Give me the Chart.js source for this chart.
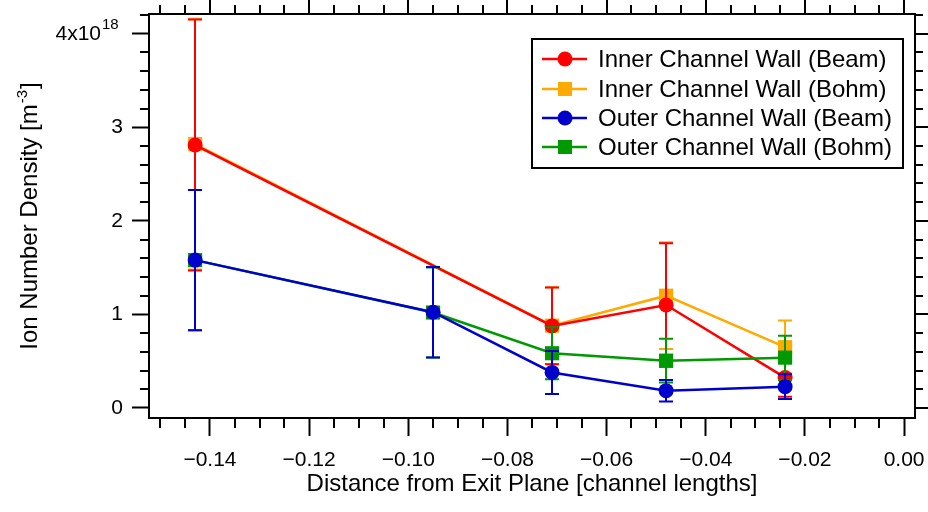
<!DOCTYPE html>
<html>
<head>
<meta charset="utf-8">
<title>Ion Number Density</title>
<script src="https://cdn.jsdelivr.net/npm/chart.js@4.4.1/dist/chart.umd.min.js"></script>
<style>
  html, body { margin: 0; padding: 0; background: #fff; }
  canvas { display: block; }
</style>
</head>
<body>
<canvas id="densityChart" width="928" height="512"></canvas>
<script>
// positions along the channel (channel lengths from exit plane)
const xInner = [-0.143, -0.071, -0.048, -0.024];
const xOuter = [-0.143, -0.095, -0.071, -0.048, -0.024];

// ion number density, units of 1e18 m^-3
const innerBeam = [2.81, 0.877, 1.10, 0.325];
const innerBeamErr = [1.34, 0.41, 0.66, 0.205];
const innerBohm = [2.82, 0.88, 1.20, 0.65];
const innerBohmErr = [1.34, 0.41, 0.57, 0.284];
const outerBeam = [1.58, 1.023, 0.38, 0.185, 0.228];
const outerBeamErr = [0.75, 0.483, 0.23, 0.115, 0.133];
const outerBohm = [1.58, 1.02, 0.585, 0.506, 0.538];
const outerBohmErr = [0.75, 0.48, 0.278, 0.234, 0.235];

const seriesNames = [
  "Inner Channel Wall (Beam)",
  "Inner Channel Wall (Bohm)",
  "Outer Channel Wall (Beam)",
  "Outer Channel Wall (Bohm)"
];

const xTickValues = [-0.14, -0.12, -0.10, -0.08, -0.06, -0.04, -0.02, 0.00];
const yTickValues = [0, 1, 2, 3, 4];

const FONT = "'Liberation Sans', Arial, Helvetica, sans-serif";

function toPoints(xs, ys) {
  return xs.map((x, i) => ({ x: x, y: ys[i] }));
}

function fmtX(v) {
  const s = Math.abs(v).toFixed(2);
  return v < -1e-9 ? "\u2212" + s : s;
}

const errors = [innerBeamErr, innerBohmErr, outerBeamErr, outerBohmErr];

// error bars drawn right before each dataset so the layering follows it
const errorBars = {
  id: "errorBars",
  beforeDatasetDraw(chart, args) {
    const err = errors[args.index];
    if (!err) return;
    const ds = chart.data.datasets[args.index];
    const { ctx, scales: { x, y } } = chart;
    ctx.save();
    ctx.strokeStyle = ds.borderColor;
    ctx.lineWidth = 2;
    ds.data.forEach((p, i) => {
      const px = Math.round(x.getPixelForValue(p.x));
      const yTop = y.getPixelForValue(p.y + err[i]);
      const yBot = y.getPixelForValue(p.y - err[i]);
      ctx.beginPath();
      ctx.moveTo(px, yTop);
      ctx.lineTo(px, yBot);
      ctx.moveTo(px - 7, yTop);
      ctx.lineTo(px + 7, yTop);
      ctx.moveTo(px - 7, yBot);
      ctx.lineTo(px + 7, yBot);
      ctx.stroke();
    });
    ctx.restore();
  }
};

// mirrored axes, minor ticks, titles and the boxed legend
const frame = {
  id: "frame",
  afterDraw(chart) {
    const { ctx, chartArea: { left, right, top, bottom }, scales: { x, y } } = chart;
    ctx.save();
    ctx.strokeStyle = "#000";
    ctx.lineWidth = 2;

    ctx.beginPath();
    ctx.moveTo(left - 1, top);
    ctx.lineTo(right, top);
    ctx.lineTo(right, bottom + 1);
    ctx.stroke();

    ctx.beginPath();
    for (let i = -30; i <= 0; i++) {
      const v = i * 0.005;
      if (v < x.min || v > x.max) continue;
      const px = Math.round(x.getPixelForValue(v));
      const major = i % 4 === 0;
      ctx.moveTo(px, top);
      ctx.lineTo(px, top - (major ? 18 : 9));
      if (!major) {
        ctx.moveTo(px, bottom);
        ctx.lineTo(px, bottom + 10);
      }
    }
    for (let i = 0; i <= 21; i++) {
      const v = i * 0.2;
      if (v < y.min || v > y.max) continue;
      const py = Math.round(y.getPixelForValue(v));
      const major = i % 5 === 0;
      ctx.moveTo(right, py);
      ctx.lineTo(right + (major ? 17 : 8), py);
      if (!major) {
        ctx.moveTo(left, py);
        ctx.lineTo(left - 9, py);
      }
    }
    ctx.stroke();

    // top y label with exponent
    ctx.fillStyle = "#000";
    const y4 = y.getPixelForValue(4);
    ctx.font = "21px " + FONT;
    ctx.textAlign = "right";
    ctx.textBaseline = "middle";
    ctx.fillText("4x10", 101, y4 + 1);
    ctx.font = "15px " + FONT;
    ctx.textAlign = "left";
    ctx.fillText("18", 102, y4 - 9);

    // x title
    ctx.font = "24px " + FONT;
    ctx.textAlign = "center";
    ctx.textBaseline = "alphabetic";
    ctx.fillText("Distance from Exit Plane [channel lengths]", (left + right) / 2, 491);

    // y title, rotated, with superscript
    ctx.save();
    ctx.translate(37, 216);
    ctx.rotate(-Math.PI / 2);
    const main = "Ion Number Density [m";
    const sup = "-3";
    ctx.font = "24px " + FONT;
    const wMain = ctx.measureText(main).width;
    const wEnd = ctx.measureText("]").width;
    ctx.font = "15px " + FONT;
    const wSup = ctx.measureText(sup).width;
    let tx = -(wMain + wSup + wEnd + 2) / 2;
    ctx.textAlign = "left";
    ctx.font = "24px " + FONT;
    ctx.fillText(main, tx, 0);
    tx += wMain + 1;
    ctx.font = "15px " + FONT;
    ctx.fillText(sup, tx, -10);
    tx += wSup + 1;
    ctx.font = "24px " + FONT;
    ctx.fillText("]", tx, 0);
    ctx.restore();

    // legend
    const bx = 532, by = 39, bw = 371, bh = 129;
    ctx.fillStyle = "#fff";
    ctx.fillRect(bx, by, bw, bh);
    ctx.strokeStyle = "#000";
    ctx.lineWidth = 2;
    ctx.strokeRect(bx, by, bw, bh);
    const rows = [59, 89, 118, 147];
    chart.data.datasets.forEach((ds, i) => {
      const ry = rows[i];
      ctx.strokeStyle = ds.borderColor;
      ctx.lineWidth = 2.5;
      ctx.beginPath();
      ctx.moveTo(542, ry);
      ctx.lineTo(587, ry);
      ctx.stroke();
      ctx.fillStyle = ds.borderColor;
      if (ds.pointStyle === "rect") {
        ctx.fillRect(558, ry - 7, 14, 14);
      } else {
        ctx.beginPath();
        ctx.arc(565, ry, 7.5, 0, Math.PI * 2);
        ctx.fill();
      }
      ctx.fillStyle = "#000";
      ctx.font = "24px " + FONT;
      ctx.textAlign = "left";
      ctx.textBaseline = "middle";
      ctx.fillText(seriesNames[i], 598, ry + 1);
    });
    ctx.restore();
  }
};

function series(label, xs, ys, color, style, order) {
  return {
    label: label,
    data: toPoints(xs, ys),
    borderColor: color,
    backgroundColor: color,
    borderWidth: 2.5,
    pointStyle: style,
    pointRadius: style === "rect" ? 10 : 7.5,
    pointBorderWidth: 0,
    pointBackgroundColor: color,
    tension: 0,
    showLine: true,
    order: order
  };
}

const canvas = document.getElementById("densityChart");
const ctx = canvas.getContext("2d");

new Chart(ctx, {
  type: "line",
  data: {
    datasets: [
      series(seriesNames[0], xInner, innerBeam, "#ff0000", "circle", 2),
      series(seriesNames[1], xInner, innerBohm, "#ffaa00", "rect", 3),
      series(seriesNames[2], xOuter, outerBeam, "#0000cc", "circle", 0),
      series(seriesNames[3], xOuter, outerBohm, "#009900", "rect", 1)
    ]
  },
  options: {
    responsive: false,
    devicePixelRatio: 1,
    animation: false,
    layout: { padding: { top: 14, right: 13, left: 0, bottom: 0 } },
    plugins: {
      legend: { display: false },
      tooltip: { enabled: false }
    },
    scales: {
      x: {
        type: "linear",
        min: -0.1523,
        max: 0.0022,
        afterBuildTicks: (scale) => {
          scale.ticks = xTickValues.map((v) => ({ value: v }));
        },
        afterFit: (scale) => {
          scale.height = 94;
          scale.paddingLeft = 0;
          scale.paddingRight = 0;
        },
        ticks: {
          autoSkip: false,
          maxRotation: 0,
          padding: 12,
          color: "#000",
          font: { family: FONT, size: 21 },
          callback: (v) => fmtX(v)
        },
        grid: {
          drawOnChartArea: false,
          drawTicks: true,
          tickLength: 18,
          tickWidth: 2,
          color: "#000"
        },
        border: { display: true, width: 2, color: "#000" }
      },
      y: {
        type: "linear",
        min: -0.107,
        max: 4.21,
        afterBuildTicks: (scale) => {
          scale.ticks = yTickValues.map((v) => ({ value: v }));
        },
        afterFit: (scale) => {
          scale.width = 149;
          scale.paddingTop = 0;
          scale.paddingBottom = 0;
        },
        ticks: {
          autoSkip: false,
          padding: 9,
          color: "#000",
          font: { family: FONT, size: 21 },
          callback: (v) => (v === 4 ? "" : String(v))
        },
        grid: {
          drawOnChartArea: false,
          drawTicks: true,
          tickLength: 17,
          tickWidth: 2,
          color: "#000"
        },
        border: { display: true, width: 2, color: "#000" }
      }
    }
  },
  plugins: [errorBars, frame]
});
</script>
</body>
</html>
